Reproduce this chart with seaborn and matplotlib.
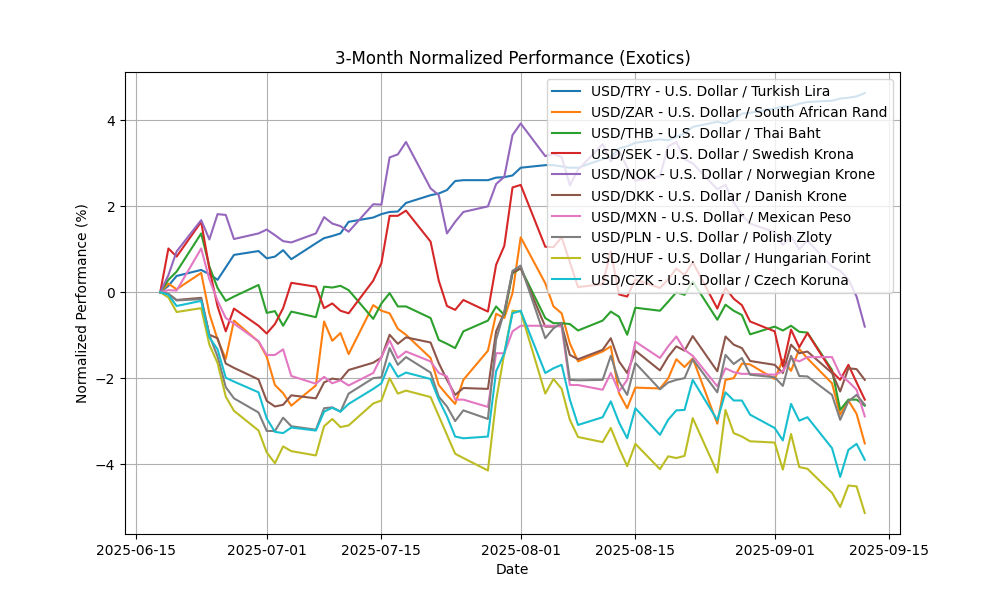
import matplotlib
matplotlib.use("Agg")
import matplotlib.pyplot as plt
import seaborn as sns
import pandas as pd

dates = pd.bdate_range("2025-06-18", "2025-09-12")

labels = [
    "USD/TRY - U.S. Dollar / Turkish Lira",
    "USD/ZAR - U.S. Dollar / South African Rand",
    "USD/THB - U.S. Dollar / Thai Baht",
    "USD/SEK - U.S. Dollar / Swedish Krona",
    "USD/NOK - U.S. Dollar / Norwegian Krone",
    "USD/DKK - U.S. Dollar / Danish Krone",
    "USD/MXN - U.S. Dollar / Mexican Peso",
    "USD/PLN - U.S. Dollar / Polish Zloty",
    "USD/HUF - U.S. Dollar / Hungarian Forint",
    "USD/CZK - U.S. Dollar / Czech Koruna",
]

try_vals = [0, 0.15, 0.38,
            0.52, 0.42, 0.29, 0.58, 0.87,
            0.96, 0.79, 0.83, 0.98, 0.77,
            1.14, 1.26, 1.31, 1.37, 1.64,
            1.74, 1.82, 1.87, 1.88, 2.08,
            2.26, 2.30, 2.38, 2.59, 2.61,
            2.61, 2.67, 2.68, 2.72, 2.90,
            2.96, 2.96, 2.93, 2.90, 2.90,
            3.10, 3.15, 3.35, 3.40, 3.48,
            3.56, 3.54, 3.62, 3.70, 3.85,
            3.97, 3.93, 4.02, 4.16, 4.18,
            4.28, 4.32, 4.33, 4.39, 4.43,
            4.46, 4.51, 4.53, 4.56, 4.64]

zar_vals = [0, 0.20, 0.07,
            0.45, -0.50, -1.10, -1.55, -0.66,
            -1.15, -1.50, -2.16, -2.35, -2.64,
            -2.17, -0.68, -1.13, -0.95, -1.44,
            -0.30, -0.43, -0.49, -0.85, -0.99,
            -1.53, -2.16, -2.39, -2.60, -2.04,
            -1.36, -0.50, -0.60, -0.02, 1.28,
            0.21, -0.33, -0.49, -1.19, -1.61,
            -1.38, -1.26, -2.35, -2.70, -2.22,
            -2.24, -2.01, -1.56, -1.74, -1.54,
            -3.06, -2.04, -2.00, -1.66, -1.68,
            -2.02, -1.57, -1.83, -1.32, -1.54,
            -2.12, -2.85, -2.52, -2.83, -3.52]

thb_vals = [0, 0.29, 0.48,
            1.37, 0.60, 0.10, -0.20, -0.10,
            0.17, -0.48, -0.44, -0.78, -0.45,
            -0.58, 0.13, 0.11, 0.15, 0.05,
            -0.62, -0.26, -0.02, -0.33, -0.33,
            -0.60, -1.11, -1.20, -1.30, -0.91,
            -0.66, -0.33, -0.53, 0.44, 0.56,
            -0.60, -0.72, -0.72, -0.74, -0.89,
            -0.66, -0.45, -0.57, -0.99, -0.36,
            -0.43, -0.22, 0.00, -0.06, 0.25,
            -0.64, -0.29, -0.43, -0.53, -0.98,
            -0.80, -0.89, -0.78, -0.92, -0.94,
            -1.81, -2.74, -2.50, -2.50, -2.64]

sek_vals = [0, 1.02, 0.83,
            1.64, 0.55, -0.33, -0.91, -0.38,
            -0.78, -0.96, -0.74, -0.37, 0.22,
            0.13, -0.37, -0.26, -0.43, -0.49,
            0.27, 0.68, 1.78, 1.78, 1.90,
            1.18, 0.27, -0.32, -0.41, -0.18,
            -0.45, 0.64, 1.08, 2.44, 2.50,
            1.06, 1.05, 1.28, 0.70, 0.12,
            0.19, 0.95, -0.05, -0.10, 0.30,
            0.10, 0.30, 0.55, 0.40, 0.70,
            -0.38, 0.10, -0.15, -0.30, -0.68,
            -0.91, -1.73, -0.87, -1.28, -0.95,
            -1.85, -2.04, -1.69, -2.10, -2.50]

nok_vals = [0, 0.40, 0.95,
            1.68, 1.23, 1.82, 1.80, 1.24,
            1.37, 1.46, 1.33, 1.19, 1.16,
            1.37, 1.75, 1.60, 1.54, 1.41,
            2.05, 2.04, 3.14, 3.21, 3.50,
            2.42, 2.26, 1.37, 1.64, 1.87,
            2.00, 2.52, 2.69, 3.66, 3.93,
            3.17, 3.22, 3.15, 2.49, 2.85,
            3.45, 3.05, 3.30, 2.90, 2.60,
            2.70, 3.40, 3.50, 3.10, 3.00,
            2.40, 2.50, 2.10, 1.80, 1.60,
            1.40, 1.10, 1.30, 1.00, 1.20,
            0.60, 0.50, 0.30, -0.10, -0.80]

dkk_vals = [0, -0.04, -0.18,
            -0.13, -0.99, -1.07, -1.66, -1.76,
            -2.03, -2.53, -2.66, -2.62, -2.40,
            -2.47, -2.10, -2.01, -2.04, -1.81,
            -1.64, -1.52, -0.99, -1.20, -1.05,
            -1.17, -1.65, -2.04, -2.39, -2.23,
            -2.25, -0.91, -0.47, 0.46, 0.56,
            -0.80, -0.80, -0.76, -1.46, -1.56,
            -1.34, -1.07, -1.61, -1.88, -1.36,
            -1.82, -1.50, -1.26, -1.36, -1.02,
            -1.84, -1.03, -1.22, -1.30, -1.60,
            -1.69, -1.88, -1.22, -1.42, -1.38,
            -1.88, -2.31, -1.77, -1.79, -2.04]

mxn_vals = [0, 0.05, 0.04,
            1.02, 0.30, -0.20, -0.60, -0.73,
            -1.14, -1.46, -1.46, -1.33, -1.95,
            -2.13, -1.97, -2.12, -2.05, -2.17,
            -1.88, -1.50, -1.12, -1.53, -1.38,
            -1.61, -1.88, -1.96, -2.50, -2.50,
            -2.67, -1.42, -1.42, -0.91, -0.78,
            -0.78, -0.78, -0.80, -2.16, -2.16,
            -2.27, -1.88, -2.31, -2.04, -1.15,
            -1.53, -1.26, -1.03, -1.34, -1.48,
            -2.19, -1.77, -1.86, -1.90, -1.90,
            -1.92, -1.84, -1.53, -1.61, -1.51,
            -1.51, -1.92, -2.08, -2.27, -2.89]

pln_vals = [0, -0.04, -0.19,
            -0.16, -1.00, -1.50, -2.21, -2.47,
            -2.80, -3.23, -3.23, -2.92, -3.12,
            -3.20, -2.70, -2.68, -2.78, -2.36,
            -2.00, -1.98, -1.30, -1.69, -1.51,
            -1.87, -2.43, -2.66, -3.00, -2.75,
            -2.95, -1.10, -0.45, 0.50, 0.62,
            -1.07, -0.84, -0.71, -2.04, -2.05,
            -2.04, -1.48, -2.08, -2.39, -1.65,
            -2.26, -2.10, -2.04, -2.00, -1.56,
            -2.33, -1.46, -1.67, -1.53, -1.92,
            -1.98, -2.18, -1.48, -1.95, -1.96,
            -2.39, -2.97, -2.54, -2.39, -2.62]

huf_vals = [0, -0.12, -0.46,
            -0.37, -1.22, -1.65, -2.43, -2.76,
            -3.22, -3.73, -3.98, -3.59, -3.70,
            -3.80, -3.12, -2.95, -3.14, -3.10,
            -2.59, -2.52, -2.00, -2.36, -2.29,
            -2.44, -2.88, -3.32, -3.76, -3.86,
            -4.15, -2.52, -1.42, -0.43, -0.45,
            -2.36, -2.02, -2.25, -2.97, -3.37,
            -3.49, -3.16, -3.63, -4.05, -3.53,
            -4.12, -3.82, -3.86, -3.81, -2.93,
            -4.20, -2.74, -3.28, -3.36, -3.47,
            -3.50, -4.13, -3.30, -4.07, -4.11,
            -4.67, -5.00, -4.50, -4.52, -5.14]

czk_vals = [0, -0.06, -0.32,
            -0.20, -1.05, -1.33, -1.99, -2.08,
            -2.33, -2.94, -3.25, -3.28, -3.15,
            -3.22, -2.78, -2.69, -2.78, -2.60,
            -2.25, -2.12, -1.65, -1.97, -1.87,
            -2.02, -2.50, -2.89, -3.36, -3.40,
            -3.36, -1.84, -1.42, -0.49, -0.43,
            -1.88, -1.77, -1.69, -2.50, -3.09,
            -2.91, -2.54, -3.03, -3.40, -2.70,
            -3.32, -2.97, -2.75, -2.74, -2.04,
            -2.98, -2.33, -2.52, -2.52, -2.85,
            -3.16, -3.45, -2.60, -2.99, -2.91,
            -3.63, -4.30, -3.67, -3.53, -3.90]

series = [try_vals, zar_vals, thb_vals, sek_vals, nok_vals,
          dkk_vals, mxn_vals, pln_vals, huf_vals, czk_vals]

colors = sns.color_palette("tab10", 10)

fig, ax = plt.subplots(figsize=(10, 6), dpi=100)
for lab, vals, col in zip(labels, series, colors):
    sns.lineplot(x=dates, y=vals, label=lab, color=col, ax=ax, linewidth=1.5)

ax.set_title("3-Month Normalized Performance (Exotics)")
ax.set_xlabel("Date")
ax.set_ylabel("Normalized Performance (%)")
ax.grid(True)
ax.legend(loc="upper right")
fig.savefig("out.png", dpi=100)
